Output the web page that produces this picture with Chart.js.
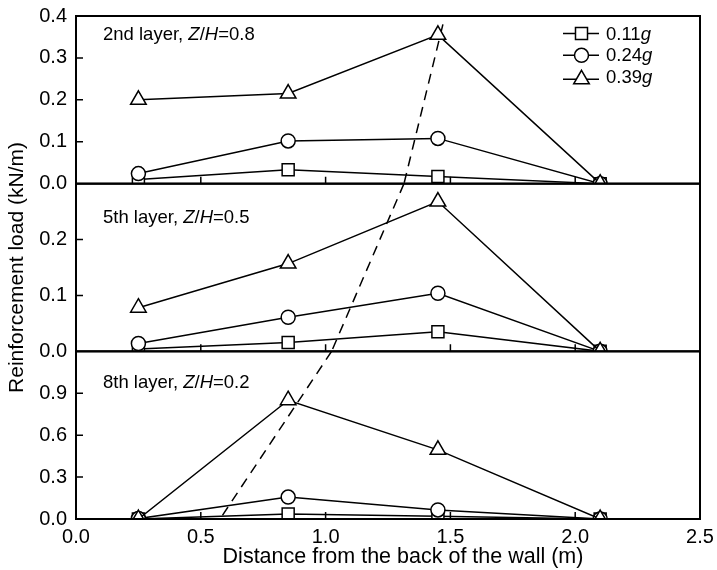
<!DOCTYPE html>
<html>
<head>
<meta charset="utf-8">
<script src="https://cdn.jsdelivr.net/npm/chart.js@4.4.1/dist/chart.umd.min.js"></script>
<style>
  html, body { margin: 0; padding: 0; background: #fff; }
  #wrap { width: 717px; height: 570px; }
</style>
</head>
<body>
<div id="wrap"><canvas id="chart" width="717" height="570"></canvas></div>
<script>
const FONT = '"Liberation Sans", Arial, Helvetica, sans-serif';

// distance from the back of the wall (m)
const distance = [0.25, 0.85, 1.45, 2.1];
const pga = ['0.11', '0.24', '0.39'];

// reinforcement load (kN/m), 2nd layer Z/H=0.8
const load2nd011 = [0.01, 0.033, 0.017, 0];
const load2nd024 = [0.024, 0.102, 0.108, 0];
const load2nd039 = [0.2, 0.215, 0.355, 0];
// 5th layer Z/H=0.5
const load5th011 = [0.004, 0.016, 0.035, 0];
const load5th024 = [0.014, 0.061, 0.104, 0];
const load5th039 = [0.078, 0.157, 0.268, 0];
// 8th layer Z/H=0.2
const load8th011 = [0, 0.035, 0.02, 0];
const load8th024 = [0.003, 0.157, 0.065, 0];
const load8th039 = [0, 0.85, 0.495, 0];

// dashed locus of maximum load, one segment per panel
const locus2ndX = [1.47, 1.314];
const locus2ndY = [0.38, 0];
const locus5thX = [1.314, 1.024];
const locus5thY = [0.3, 0];
const locus8thX = [1.024, 0.577];
const locus8thY = [1.2, 0];

const xTicks = { min: 0, max: 2.5, step: 0.5 };

const panels = [
  { id: 'y2nd', layer: '2nd layer, ', zh: '0.8', max: 0.4, step: 0.1, weight: 3, labelDy: 24,
    loads: [load2nd011, load2nd024, load2nd039], locusX: locus2ndX, locusY: locus2ndY },
  { id: 'y5th', layer: '5th layer, ', zh: '0.5', max: 0.3, step: 0.1, weight: 2, labelDy: 39,
    loads: [load5th011, load5th024, load5th039], locusX: locus5thX, locusY: locus5thY },
  { id: 'y8th', layer: '8th layer, ', zh: '0.2', max: 1.2, step: 0.3, weight: 1, labelDy: 37,
    loads: [load8th011, load8th024, load8th039], locusX: locus8thX, locusY: locus8thY },
];

const markers = [
  { style: 'rect', radius: 8.5, order: 2 },
  { style: 'circle', radius: 7, order: 1 },
  { style: 'triangle', radius: 9, order: 0 },
];

const pts = (xs, ys) => xs.map((x, i) => ({ x, y: ys[i] }));

function drawRich(ctx, parts, x, y, size) {
  parts.forEach(([text, italic]) => {
    ctx.font = `${italic ? 'italic ' : ''}${size}px ${FONT}`;
    ctx.fillText(text, x, y);
    x += ctx.measureText(text).width;
  });
}

// keep the plot box exactly where the layout padding puts it
function noOverflow(s) {
  s.paddingTop = 0;
  s.paddingBottom = 0;
  s.paddingLeft = 0;
  s.paddingRight = 0;
}

const datasets = [];
panels.forEach((p) => {
  p.loads.forEach((vals, i) => {
    const m = markers[i];
    datasets.push({
      label: `${pga[i]}g ${p.layer}`,
      data: pts(distance, vals),
      yAxisID: p.id,
      borderColor: '#000',
      borderWidth: 1.5,
      pointStyle: m.style,
      pointRadius: m.radius,
      pointBackgroundColor: '#fff',
      pointBorderColor: '#000',
      pointBorderWidth: 1.5,
      order: m.order,
    });
  });
  datasets.push({
    label: 'locus',
    data: pts(p.locusX, p.locusY),
    yAxisID: p.id,
    borderColor: '#000',
    borderWidth: 1.5,
    borderDash: [10, 7],
    pointRadius: 0,
    order: 3,
  });
});

const scales = {
  x: {
    type: 'linear',
    min: xTicks.min,
    max: xTicks.max,
    grid: { display: false, drawTicks: false },
    border: { display: false },
    ticks: {
      stepSize: xTicks.step,
      color: '#000',
      padding: 6,
      autoSkip: false,
      maxRotation: 0,
      font: { family: FONT, size: 20 },
      callback: (v) => v.toFixed(1),
    },
    afterFit: (s) => { s.height = 51; noOverflow(s); },
  },
};

panels.forEach((p) => {
  scales[p.id] = {
    type: 'linear',
    position: 'left',
    stack: 'layers',
    stackWeight: 1,
    weight: p.weight,
    min: 0,
    max: p.max,
    grid: { display: false, drawTicks: false },
    border: { display: false },
    ticks: {
      stepSize: p.step,
      autoSkip: false,
      color: '#000',
      padding: 9,
      font: { family: FONT, size: 20 },
      callback: (v) => (p.id !== 'y2nd' && v > p.max - 1e-9 ? '' : v.toFixed(1)),
    },
    title: {
      display: p.id === 'y5th',
      text: 'Reinforcement load (kN/m)',
      color: '#000',
      font: { family: FONT, size: 21 },
      padding: { top: 5, bottom: 0 },
    },
    afterFit: (s) => { s.width = 76; noOverflow(s); },
  };
});

const frame = {
  id: 'frame',
  afterDatasetsDraw(chart) {
    const { ctx, chartArea: { left, right } } = chart;
    const xs = chart.scales.x;
    ctx.save();
    ctx.strokeStyle = '#000';
    panels.forEach((p) => {
      const ys = chart.scales[p.id];
      ctx.lineWidth = 1.5;
      ctx.beginPath();
      xs.ticks.forEach((t) => {
        if (t.value <= xs.min || t.value >= xs.max) return;
        const px = xs.getPixelForValue(t.value);
        ctx.moveTo(px, ys.bottom);
        ctx.lineTo(px, ys.bottom - 7);
      });
      ys.ticks.forEach((t) => {
        if (t.value <= ys.min || t.value >= ys.max - 1e-9) return;
        const py = ys.getPixelForValue(t.value);
        ctx.moveTo(left, py);
        ctx.lineTo(left + 7, py);
      });
      ctx.stroke();
      ctx.lineWidth = 2;
      ctx.strokeRect(left, ys.top, right - left, ys.bottom - ys.top);
    });
    ctx.restore();
  },
  afterDraw(chart) {
    const { ctx, chartArea: { left, right } } = chart;
    ctx.save();
    ctx.fillStyle = '#000';
    ctx.textBaseline = 'alphabetic';
    ctx.textAlign = 'left';

    // panel labels
    panels.forEach((p) => {
      const ys = chart.scales[p.id];
      drawRich(ctx, [[p.layer, false], ['Z', true], ['/', false], ['H', true], ['=' + p.zh, false]],
        left + 27, ys.top + p.labelDy, 18.5);
    });

    // legend
    const top = chart.scales.y2nd.top;
    markers.forEach((m, i) => {
      const base = top + 23.5 + i * 21.8;
      const cy = base - 6 + (m.style === 'triangle' ? m.radius / 4 : 0);
      ctx.strokeStyle = '#000';
      ctx.lineWidth = 1.5;
      ctx.beginPath();
      ctx.moveTo(right - 137, cy);
      ctx.lineTo(right - 101, cy);
      ctx.stroke();
      ctx.fillStyle = '#fff';
      Chart.helpers.drawPoint(ctx, { pointStyle: m.style, radius: m.radius, borderWidth: 1.5, rotation: 0 }, right - 118.5, cy);
      ctx.fillStyle = '#000';
      drawRich(ctx, [[pga[i], false], ['g', true]], right - 94, base, 18.5);
    });

    // x title
    ctx.font = `21.5px ${FONT}`;
    ctx.textAlign = 'center';
    ctx.fillText('Distance from the back of the wall (m)', (left + right) / 2 + 15, 563);
    ctx.restore();
  },
};

new Chart(document.getElementById('chart'), {
  type: 'line',
  data: { datasets },
  options: {
    responsive: false,
    animation: false,
    devicePixelRatio: 1,
    layout: { padding: { top: 16, right: 17, left: 0, bottom: 0 } },
    plugins: { legend: { display: false }, tooltip: { enabled: false } },
    scales,
  },
  plugins: [frame],
});
</script>
</body>
</html>
